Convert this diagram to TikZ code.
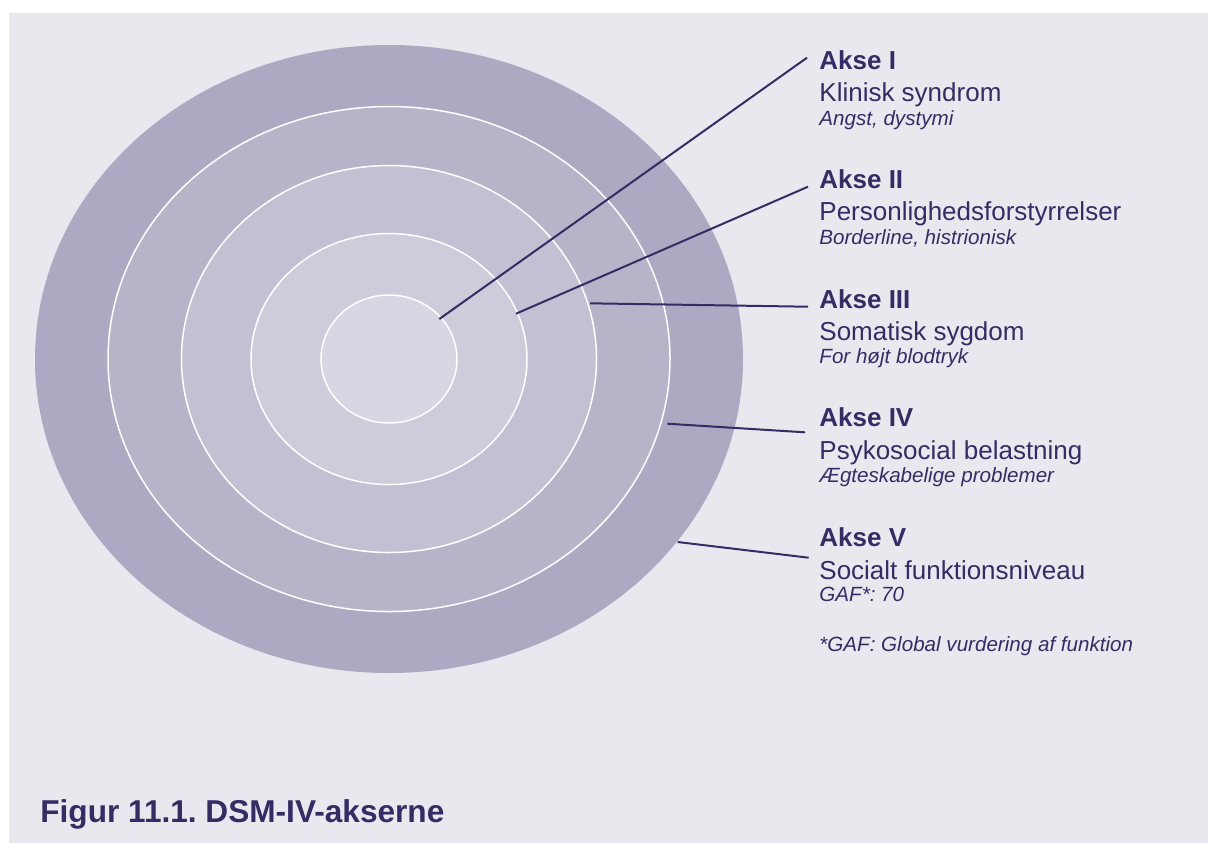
\documentclass[tikz,border=0pt]{standalone}
\usepackage{fontspec}
\setmainfont{Liberation Sans}
\frenchspacing
\definecolor{panel}{HTML}{EAE8EF}
\definecolor{ringA}{HTML}{ADA9C2}
\definecolor{ringB}{HTML}{B7B4CA}
\definecolor{ringC}{HTML}{C3C0D3}
\definecolor{ringD}{HTML}{CECCDB}
\definecolor{ringE}{HTML}{D8D6E2}
\definecolor{ink}{HTML}{352C64}
\tikzset{
  ringline/.style={draw=white!95!panel, line width=0.75pt},
  leader/.style={draw=ink, line width=1pt},
  lbl/.style={anchor=base west, inner sep=0pt, text=ink},
  headtxt/.style={lbl, font=\fontsize{13}{15}\selectfont\bfseries},
  maintxt/.style={lbl, font=\fontsize{13}{15}\selectfont},
  subtxt/.style={lbl, font=\fontsize{10.3}{12}\selectfont\itshape},
}
\begin{document}
\begin{tikzpicture}[x=0.5pt,y=-0.5pt]
\useasboundingbox (0,0) rectangle (1208,843);
\fill[white] (0,0) rectangle (1208,843);
\fill[panel] (9,13) rectangle (1208,843);
% rings
\coordinate (c) at (389,359);
\fill[ringA] (c) ellipse [x radius=177pt, y radius=157pt];
\fill[ringB, ringline] (c) ellipse [x radius=140.5pt, y radius=126.25pt];
\fill[ringC, ringline] (c) ellipse [x radius=103.75pt, y radius=96.75pt];
\fill[ringD, ringline] (c) ellipse [x radius=69pt, y radius=62.75pt];
\fill[ringE, ringline] (c) ellipse [x radius=34pt, y radius=32pt];
% labels
\node[headtxt] (h1) at (819,69.3) {Akse I};
\node[maintxt] (m1) at (819,101.7) {Klinisk syndrom};
\node[subtxt] (s1) at (819,125) {Angst, dystymi};
\node[headtxt] (h2) at (819,188.3) {Akse II};
\node[maintxt] (m2) at (819,220.5) {Personlighedsforstyrrelser};
\node[subtxt] (s2) at (819,244) {Borderline, histrionisk};
\node[headtxt] (h3) at (819,308.3) {Akse III};
\node[maintxt] (m3) at (819,340.5) {Somatisk sygdom};
\node[subtxt] (s3) at (819,363.5) {For højt blodtryk};
\node[headtxt] (h4) at (819,426.7) {Akse IV};
\node[maintxt] (m4) at (819,459) {Psykosocial belastning};
\node[subtxt] (s4) at (819,482) {Ægteskabelige problemer};
\node[headtxt] (h5) at (819,546.7) {Akse V};
\node[maintxt] (m5) at (819,579) {Socialt funktionsniveau};
\node[subtxt] (s5) at (819,601.7) {GAF*: 70};
\node[subtxt] (fn) at (819,651.7) {*GAF: Global vurdering af funktion};
\node[lbl, anchor=base west, font=\fontsize{15.8}{18}\selectfont\bfseries] (title) at (40,822.7) {Figur 11.1. DSM-IV-akserne};
% leader endpoints
\coordinate (e1) at (439.3,319);
\coordinate (t1) at (807,57.7);
\coordinate (e2) at (516,313.7);
\coordinate (t2) at (808,186.7);
\coordinate (e3) at (590,303.3);
\coordinate (t3) at (808,306.7);
\coordinate (e4) at (667.3,423.7);
\coordinate (t4) at (805,432.3);
\coordinate (e5) at (677.7,542);
\coordinate (t5) at (808.7,557.7);
\draw[leader] (e1) -- (t1);
\draw[leader] (e2) -- (t2);
\draw[leader] (e3) -- (t3);
\draw[leader] (e4) -- (t4);
\draw[leader] (e5) -- (t5);
\end{tikzpicture}
\end{document}
